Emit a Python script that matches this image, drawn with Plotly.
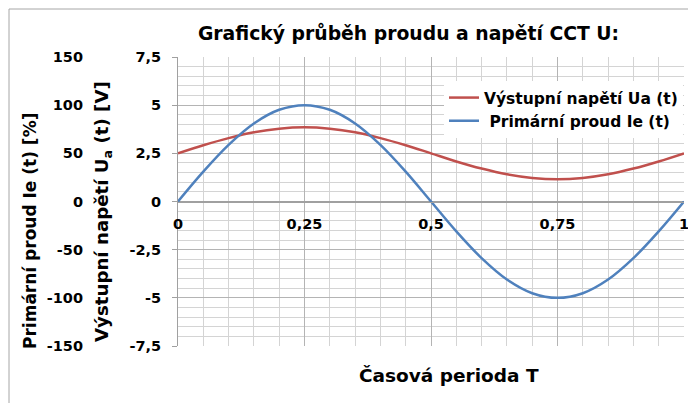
import plotly.graph_objects as go

# Data
t = [0, 0.05, 0.10, 0.15, 0.20, 0.25, 0.30, 0.35, 0.40, 0.45, 0.50,
     0.55, 0.60, 0.65, 0.70, 0.75, 0.80, 0.85, 0.90, 0.95, 1.00]
ua = [2.50, 2.92, 3.29, 3.59, 3.78, 3.85, 3.78, 3.59, 3.29, 2.92, 2.50,
      2.08, 1.71, 1.41, 1.22, 1.15, 1.22, 1.41, 1.71, 2.08, 2.50]
ie = [0.00, 1.55, 2.94, 4.05, 4.76, 5.00, 4.76, 4.05, 2.94, 1.55, 0.00,
      -1.55, -2.94, -4.05, -4.76, -5.00, -4.76, -4.05, -2.94, -1.55, 0.00]

x_ticks = [0, 0.25, 0.5, 0.75, 1]
x_ticktext = ["0", "0,25", "0,5", "0,75", "1"]
y_ticks = [-7.5, -5, -2.5, 0, 2.5, 5, 7.5]
y_ticktext = ["-7,5", "-5", "-2,5", "0", "2,5", "5", "7,5"]
y2_ticks = [-150, -100, -50, 0, 50, 100, 150]
y2_ticktext = ["-150", "-100", "-50", "0", "50", "100", "150"]

FONT = "DejaVu Sans"
OFF = 8  # page body margin
W, H = 696 - OFF, 403 - OFF
# screen positions of the plot area
S_LEFT, S_RIGHT, S_TOP, S_BOTTOM = 178, 684, 57, 346
ML = 12
MR = W - (S_RIGHT - OFF)
MT = S_TOP - OFF
MB = H - (S_BOTTOM - OFF)
PW = W - ML - MR
PH = H - MT - MB


def px(sx):
    return (sx - OFF - ML) / PW


def py(sy):
    return (H - MB - (sy - OFF)) / PH


fig = go.Figure()
fig.add_trace(go.Scatter(
    x=t, y=ua, mode="lines", name="Výstupní napětí Ua (t)",
    line=dict(color="#C0504D", width=2.5, shape="spline"),
))
fig.add_trace(go.Scatter(
    x=t, y=ie, mode="lines", name=" Primární proud Ie (t)",
    line=dict(color="#4F81BD", width=2.5, shape="spline"),
))
# invisible trace for the outer (percent) axis
fig.add_trace(go.Scatter(
    x=[0, 1], y=[-150, 150], mode="markers", yaxis="y2",
    marker=dict(opacity=0), showlegend=False, hoverinfo="skip",
))

tickfont = dict(family=FONT, size=14.5, color="black", weight="bold")

fig.update_layout(
    width=W, height=H,
    margin=dict(l=ML, r=MR, t=MT, b=MB, autoexpand=False),
    paper_bgcolor="white", plot_bgcolor="white",
    title=dict(text="Grafický průběh proudu a napětí CCT U:",
               x=(408.5 - OFF) / W, xanchor="center",
               y=1 - (33 - OFF) / H, yanchor="middle",
               font=dict(family=FONT, size=18.8, color="black", weight="bold")),
    xaxis=dict(
        domain=[px(S_LEFT), 1], range=[0, 1], automargin=False,
        tickvals=x_ticks, ticktext=x_ticktext, tickfont=tickfont,
        anchor="free", position=0.5, ticklabelstandoff=9,
        showline=True, linecolor="#a0a0a0", linewidth=1,
        showgrid=True, gridcolor="#b4b4b4", gridwidth=1,
        minor=dict(dtick=0.05, showgrid=True, gridcolor="#d4d4d4", gridwidth=1),
        zeroline=False, ticks="", fixedrange=True,
    ),
    yaxis=dict(
        range=[-7.5, 7.5], tickvals=y_ticks, ticktext=y_ticktext,
        automargin=False,
        tickfont=tickfont, ticks="outside", ticklen=5, tickcolor="#a0a0a0",
        ticklabelstandoff=8,
        showline=True, linecolor="#a0a0a0", linewidth=1, mirror=False,
        showgrid=True, gridcolor="#b4b4b4", gridwidth=1,
        minor=dict(dtick=0.5, showgrid=True, gridcolor="#d4d4d4", gridwidth=1),
        zeroline=True, zerolinecolor="#a0a0a0", zerolinewidth=1,
        fixedrange=True,
    ),
    yaxis2=dict(
        range=[-150, 150], tickvals=y2_ticks, ticktext=y2_ticktext,
        automargin=False,
        tickfont=tickfont, overlaying="y", anchor="free", side="left",
        position=px(83), showgrid=False, showline=False, zeroline=False,
        ticks="", fixedrange=True,
    ),
    showlegend=True,
    legend=dict(
        x=px(444), xanchor="left", y=py(81), yanchor="top",
        bgcolor="white", borderwidth=0, tracegroupgap=0,
        font=dict(family=FONT, size=15.5, color="black", weight="bold"),
        itemwidth=30,
    ),
    shapes=[dict(
        type="rect", xref="paper", yref="paper",
        x0=px(9), x1=px(720), y0=py(430), y1=py(9),
        line=dict(color="#a6a6a6", width=1), fillcolor="rgba(0,0,0,0)",
        layer="below",
    )],
    annotations=[
        dict(text="Primární proud Ie (t) [%]", x=px(30), y=py(231),
             xref="paper", yref="paper", textangle=-90, showarrow=False,
             xanchor="center", yanchor="middle",
             font=dict(family=FONT, size=17, color="black", weight="bold")),
        dict(text="Výstupní napětí U<sub>a</sub> (t) [V]", x=px(103), y=py(212),
             xref="paper", yref="paper", textangle=-90, showarrow=False,
             xanchor="center", yanchor="middle",
             font=dict(family=FONT, size=18.2, color="black", weight="bold")),
        dict(text="Časová perioda T", x=px(449), y=py(375),
             xref="paper", yref="paper", showarrow=False,
             xanchor="center", yanchor="middle",
             font=dict(family=FONT, size=18.5, color="black", weight="bold")),
    ],
)

fig.write_html("out.html")
